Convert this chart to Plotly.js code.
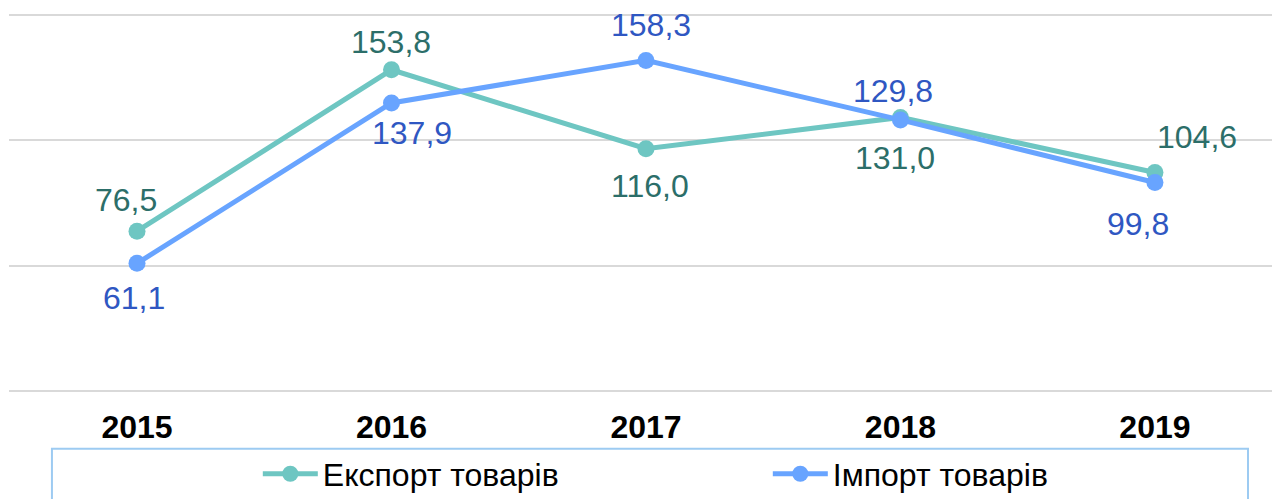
<!DOCTYPE html>
<html><head><meta charset="utf-8">
<script src="https://cdn.plot.ly/plotly-3.0.1.min.js"></script>
<style>html,body{margin:0;padding:0;background:#fff}#chart{width:1272px;height:499px}</style>
</head><body><div id="chart"></div>
<script>
const years = ['2015','2016','2017','2018','2019'];
const exportValues = [76.5, 153.8, 116.0, 131.0, 104.6];
const importValues = [61.1, 137.9, 158.3, 129.8, 99.8];
const exportName = 'Експорт товарів';
const importName = 'Імпорт товарів';

// label placement offsets (pixels) — styling only
const exportLabelShift = [[-11, 31], [0, 28], [4, -37], [-5, -41], [42, 36]];
const importLabelShift = [[-3, -35], [21, -30], [5, 35], [-7, 29], [-17, -41]];

const fmt = v => v.toFixed(1).replace('.', ',');
const font = 'Arial, "Liberation Sans", sans-serif';
const exportLine = '#6EC6C2', importLine = '#68A4FF';
const exportText = '#2C6E69', importText = '#2F57C2';

const traces = [
  {x: years, y: exportValues, name: exportName, type: 'scatter', mode: 'lines+markers',
   line: {color: exportLine, width: 5}, marker: {color: exportLine, size: 17}, cliponaxis: false},
  {x: years, y: importValues, name: importName, type: 'scatter', mode: 'lines+markers',
   line: {color: importLine, width: 5}, marker: {color: importLine, size: 17}, cliponaxis: false}
];

// on a category axis, annotation x is the category's serial index
const annotations = [];
years.forEach((yr, i) => {
  annotations.push({x: i, y: exportValues[i], xref: 'x', yref: 'y', text: fmt(exportValues[i]),
    showarrow: false, xanchor: 'center', yanchor: 'middle',
    xshift: exportLabelShift[i][0], yshift: exportLabelShift[i][1],
    font: {family: font, size: 32, color: exportText}});
  annotations.push({x: i, y: importValues[i], xref: 'x', yref: 'y', text: fmt(importValues[i]),
    showarrow: false, xanchor: 'center', yanchor: 'middle',
    xshift: importLabelShift[i][0], yshift: importLabelShift[i][1],
    font: {family: font, size: 32, color: importText}});
});

const layout = {
  width: 1272, height: 499,
  margin: {l: 9, r: 0, t: 13, b: 106, autoexpand: false},
  paper_bgcolor: '#fff', plot_bgcolor: '#fff',
  font: {family: font},
  showlegend: true,
  xaxis: {type: 'category', range: [-0.503, 4.46], showgrid: false, zeroline: false,
    showline: false, ticks: '', tickfont: {family: font, size: 32, color: '#000', weight: 'bold'},
    ticklabelstandoff: 12, automargin: false},
  yaxis: {range: [-1, 181], tickvals: [0, 60, 120, 180], showgrid: true, gridcolor: '#D9D9D9', gridwidth: 2,
    zeroline: false, showticklabels: false, ticks: '', fixedrange: true, automargin: false},
  legend: {orientation: 'h', x: 0.197, xanchor: 'left', y: -0.213, yanchor: 'middle',
    font: {family: font, size: 32, color: '#000'}, itemwidth: 55, entrywidth: 440,
    bgcolor: 'rgba(0,0,0,0)', borderwidth: 0},
  annotations: annotations,
  shapes: [{type: 'rect', xref: 'paper', yref: 'paper', x0: 0.034, x1: 0.981, y0: -0.147, y1: -0.4,
    line: {color: '#9DCBF2', width: 2}, fillcolor: 'rgba(0,0,0,0)'}]
};

Plotly.newPlot('chart', traces, layout, {displayModeBar: false, staticPlot: true});
</script></body></html>
